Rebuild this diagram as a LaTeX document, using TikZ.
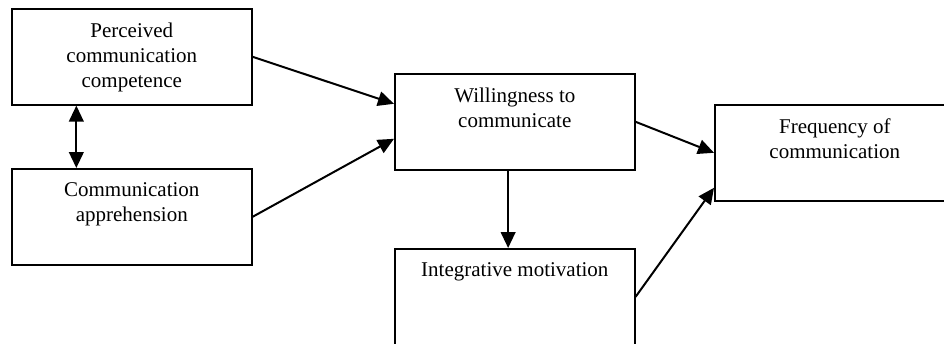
\documentclass[tikz,border=0pt]{standalone}
\usepackage{fontspec}
\setmainfont{Liberation Serif}
\usetikzlibrary{arrows.meta}

\tikzset{
  box/.style={draw, line width=1.2pt, inner sep=0pt, anchor=north west,
    minimum width=180pt, minimum height=72pt,
    execute at begin node={\begin{minipage}[c][72pt][t]{180pt}\centering\vspace*{10.5pt}},
    execute at end node={\end{minipage}}},
  link/.style={line width=1.5pt, -{Triangle[length=12pt,width=11pt]}}
}

\begin{document}
\begin{tikzpicture}[x=0.75pt, y=-0.75pt, font=\fontsize{15.75}{18.75}\selectfont]
\useasboundingbox (0,0) rectangle (944,343);
\clip (0,0) rectangle (944,343);

\node[box] (pcc) at (11,8) {Perceived\\communication\\competence};
\node[box] (ca) at (11,168) {Communication\\apprehension};
\node[box] (wtc) at (394,73) {Willingness to\\communicate};
\node[box] (foc) at (714,104) {Frequency of\\communication};
\node[box] (im) at (394,248) {Integrative motivation};

\draw[link, {Triangle[length=12pt,width=11pt]}-{Triangle[length=12pt,width=11pt]}] ([xshift=-41.6pt]pcc.south) -- ([xshift=-41.6pt]ca.north);
\draw[link] (pcc.east) -- ([yshift=13.5pt]wtc.west);
\draw[link] (ca.east) -- ([yshift=-12.75pt]wtc.west);
\draw[link] (wtc.east) -- (foc.west);
\draw[link] ([xshift=-5pt]wtc.south) -- ([xshift=-5pt]im.north);
\draw[link] (im.east) -- ([yshift=-26.25pt]foc.west);
\end{tikzpicture}
\end{document}
